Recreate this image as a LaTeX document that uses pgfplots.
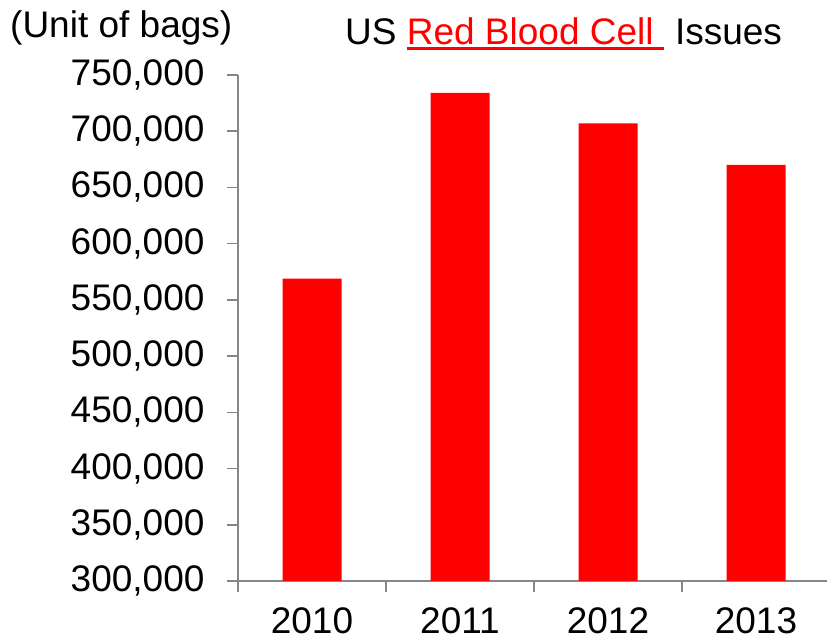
\documentclass[border=0pt]{standalone}
\usepackage{pgfplots}
\pgfplotsset{compat=1.18}
\usepackage{fontspec}
\setmainfont{Liberation Sans}
\definecolor{axgray}{HTML}{868686}
\definecolor{barred}{HTML}{FF0000}
\newcommand\myul[1]{\setbox0\hbox{#1}\rlap{\raisebox{-5.5pt}{\rule{\wd0}{3pt}}}\box0}
\begin{document}
\begin{tikzpicture}[x=1pt,y=1pt]
\useasboundingbox (0,0) rectangle (827,644);
\begin{axis}[
  at={(238pt,63pt)}, anchor=south west,
  scale only axis, width=592pt, height=506pt,
  xmin=0, xmax=4, ymin=300000, ymax=750000,
  axis lines=left, axis line style={axgray, line width=1.5pt, -},
  ytick={300000,350000,...,750000},
  scaled y ticks=false,
  yticklabel style={/pgf/number format/fixed, /pgf/number format/precision=0, /pgf/number format/1000 sep={,}, /pgf/number format/assume math mode=true, xshift=-19pt},
  xtick={0,1,2,3,4},
  xticklabels={2010,2011,2012,2013},
  x tick label as interval,
  tick align=outside,
  major tick length=11pt,
  tick style={axgray, line width=1.5pt},
  tick label style={font=\fontsize{37}{42}\selectfont, black},
  xticklabel style={yshift=-14pt, inner sep=1pt},
  clip=false,
]
\addplot[ybar, bar width=59pt, fill=barred, draw=none] coordinates {
  (0.5,569000) (1.5,734000) (2.5,707000) (3.5,670000)
};
\end{axis}
\node[anchor=base west, inner sep=0, font=\fontsize{37}{42}\selectfont] at (10,606) {(Unit of bags)};
\node[anchor=base west, inner sep=0, font=\fontsize{37}{42}\selectfont] at (345,599) {US \textcolor{barred}{\myul{Red Blood Cell\ }}\hspace{0.3em}Issues};
\end{tikzpicture}
\end{document}
